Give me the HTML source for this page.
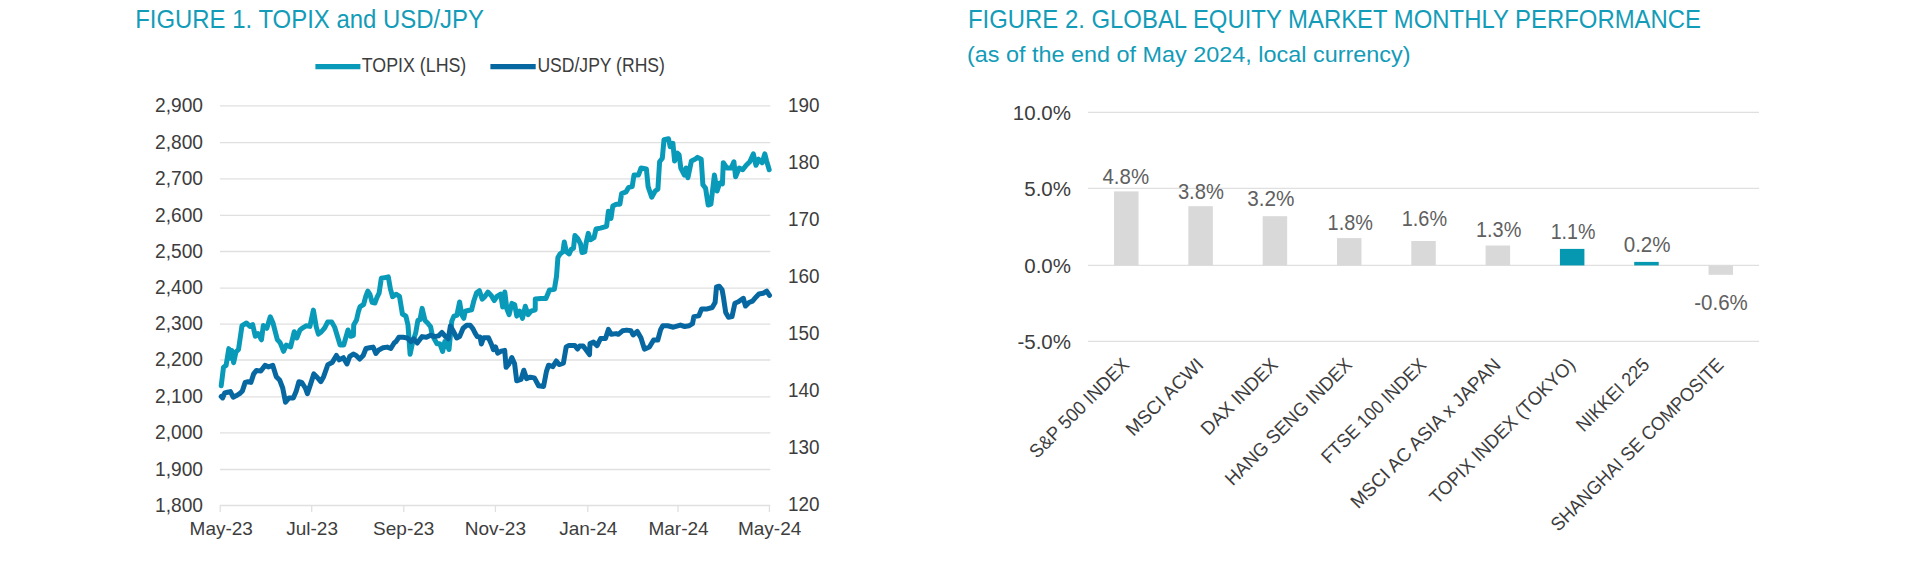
<!DOCTYPE html><html><head><meta charset="utf-8"><style>html,body{margin:0;padding:0;background:#fff;width:1920px;height:566px;overflow:hidden}svg{display:block;font-family:"Liberation Sans",sans-serif}</style></head><body>
<svg width="1920" height="566" viewBox="0 0 1920 566">
<text x="135.2" y="28" font-size="26" fill="#139cb8" textLength="348.8" lengthAdjust="spacingAndGlyphs">FIGURE 1. TOPIX and USD/JPY</text>
<text x="968" y="28" font-size="26" fill="#139cb8" textLength="733" lengthAdjust="spacingAndGlyphs">FIGURE 2. GLOBAL EQUITY MARKET MONTHLY PERFORMANCE</text>
<text x="967" y="61.6" font-size="22" fill="#139cb8" textLength="443.5" lengthAdjust="spacingAndGlyphs">(as of the end of May 2024, local currency)</text>
<line x1="315.4" y1="66.7" x2="360.4" y2="66.7" stroke="#0a9ab9" stroke-width="5.2"/>
<text x="361.8" y="71.5" font-size="19.5" fill="#3d3d3d" textLength="104.5" lengthAdjust="spacingAndGlyphs">TOPIX (LHS)</text>
<line x1="490.4" y1="66.7" x2="535.7" y2="66.7" stroke="#0667a1" stroke-width="5.2"/>
<text x="537.4" y="71.5" font-size="19.5" fill="#3d3d3d" textLength="127.5" lengthAdjust="spacingAndGlyphs">USD/JPY (RHS)</text>
<line x1="220" y1="105.95" x2="770.3" y2="105.95" stroke="#e0e0e0" stroke-width="1.3"/>
<text x="155" y="112.0" font-size="20" fill="#3d3d3d" textLength="48" lengthAdjust="spacingAndGlyphs">2,900</text>
<line x1="220" y1="142.70" x2="770.3" y2="142.70" stroke="#e0e0e0" stroke-width="1.3"/>
<text x="155" y="148.8" font-size="20" fill="#3d3d3d" textLength="48" lengthAdjust="spacingAndGlyphs">2,800</text>
<line x1="220" y1="178.90" x2="770.3" y2="178.90" stroke="#e0e0e0" stroke-width="1.3"/>
<text x="155" y="185.0" font-size="20" fill="#3d3d3d" textLength="48" lengthAdjust="spacingAndGlyphs">2,700</text>
<line x1="220" y1="215.40" x2="770.3" y2="215.40" stroke="#e0e0e0" stroke-width="1.3"/>
<text x="155" y="221.5" font-size="20" fill="#3d3d3d" textLength="48" lengthAdjust="spacingAndGlyphs">2,600</text>
<line x1="220" y1="251.50" x2="770.3" y2="251.50" stroke="#e0e0e0" stroke-width="1.3"/>
<text x="155" y="257.6" font-size="20" fill="#3d3d3d" textLength="48" lengthAdjust="spacingAndGlyphs">2,500</text>
<line x1="220" y1="288.20" x2="770.3" y2="288.20" stroke="#e0e0e0" stroke-width="1.3"/>
<text x="155" y="294.3" font-size="20" fill="#3d3d3d" textLength="48" lengthAdjust="spacingAndGlyphs">2,400</text>
<line x1="220" y1="324.10" x2="770.3" y2="324.10" stroke="#e0e0e0" stroke-width="1.3"/>
<text x="155" y="330.2" font-size="20" fill="#3d3d3d" textLength="48" lengthAdjust="spacingAndGlyphs">2,300</text>
<line x1="220" y1="360.00" x2="770.3" y2="360.00" stroke="#e0e0e0" stroke-width="1.3"/>
<text x="155" y="366.1" font-size="20" fill="#3d3d3d" textLength="48" lengthAdjust="spacingAndGlyphs">2,200</text>
<line x1="220" y1="396.80" x2="770.3" y2="396.80" stroke="#e0e0e0" stroke-width="1.3"/>
<text x="155" y="402.9" font-size="20" fill="#3d3d3d" textLength="48" lengthAdjust="spacingAndGlyphs">2,100</text>
<line x1="220" y1="432.95" x2="770.3" y2="432.95" stroke="#e0e0e0" stroke-width="1.3"/>
<text x="155" y="439.1" font-size="20" fill="#3d3d3d" textLength="48" lengthAdjust="spacingAndGlyphs">2,000</text>
<line x1="220" y1="469.50" x2="770.3" y2="469.50" stroke="#e0e0e0" stroke-width="1.3"/>
<text x="155" y="475.6" font-size="20" fill="#3d3d3d" textLength="48" lengthAdjust="spacingAndGlyphs">1,900</text>
<line x1="220" y1="505.50" x2="770.3" y2="505.50" stroke="#e0e0e0" stroke-width="1.3"/>
<text x="155" y="511.6" font-size="20" fill="#3d3d3d" textLength="48" lengthAdjust="spacingAndGlyphs">1,800</text>
<text x="788" y="111.9" font-size="20" fill="#3d3d3d" textLength="31.5" lengthAdjust="spacingAndGlyphs">190</text>
<text x="788" y="168.9" font-size="20" fill="#3d3d3d" textLength="31.5" lengthAdjust="spacingAndGlyphs">180</text>
<text x="788" y="226.0" font-size="20" fill="#3d3d3d" textLength="31.5" lengthAdjust="spacingAndGlyphs">170</text>
<text x="788" y="283.1" font-size="20" fill="#3d3d3d" textLength="31.5" lengthAdjust="spacingAndGlyphs">160</text>
<text x="788" y="340.2" font-size="20" fill="#3d3d3d" textLength="31.5" lengthAdjust="spacingAndGlyphs">150</text>
<text x="788" y="397.2" font-size="20" fill="#3d3d3d" textLength="31.5" lengthAdjust="spacingAndGlyphs">140</text>
<text x="788" y="454.3" font-size="20" fill="#3d3d3d" textLength="31.5" lengthAdjust="spacingAndGlyphs">130</text>
<text x="788" y="511.4" font-size="20" fill="#3d3d3d" textLength="31.5" lengthAdjust="spacingAndGlyphs">120</text>
<line x1="220.2" y1="505.5" x2="220.2" y2="512" stroke="#e0e0e0" stroke-width="1.3"/>
<text x="221.25" y="535.3" font-size="19" fill="#3d3d3d" text-anchor="middle">May-23</text>
<line x1="311.7" y1="505.5" x2="311.7" y2="512" stroke="#e0e0e0" stroke-width="1.3"/>
<text x="312.10" y="535.3" font-size="19" fill="#3d3d3d" text-anchor="middle">Jul-23</text>
<line x1="403.8" y1="505.5" x2="403.8" y2="512" stroke="#e0e0e0" stroke-width="1.3"/>
<text x="403.75" y="535.3" font-size="19" fill="#3d3d3d" text-anchor="middle">Sep-23</text>
<line x1="495.4" y1="505.5" x2="495.4" y2="512" stroke="#e0e0e0" stroke-width="1.3"/>
<text x="495.35" y="535.3" font-size="19" fill="#3d3d3d" text-anchor="middle">Nov-23</text>
<line x1="587.8" y1="505.5" x2="587.8" y2="512" stroke="#e0e0e0" stroke-width="1.3"/>
<text x="588.25" y="535.3" font-size="19" fill="#3d3d3d" text-anchor="middle">Jan-24</text>
<line x1="678.0" y1="505.5" x2="678.0" y2="512" stroke="#e0e0e0" stroke-width="1.3"/>
<text x="678.50" y="535.3" font-size="19" fill="#3d3d3d" text-anchor="middle">Mar-24</text>
<line x1="769.4" y1="505.5" x2="769.4" y2="512" stroke="#e0e0e0" stroke-width="1.3"/>
<text x="769.65" y="535.3" font-size="19" fill="#3d3d3d" text-anchor="middle">May-24</text>
<path d="M221.2,385.7 L223.5,367.2 L226.1,365.4 L228.8,348.6 L230.6,358.3 L231.8,350.4 L233.6,362.7 L235.9,352.1 L238.5,349.5 L242.0,325.6 L246.5,323.0 L250.0,326.5 L252.7,324.7 L255.3,336.2 L258.0,333.6 L261.5,339.8 L263.3,325.6 L266.8,328.3 L270.3,316.8 L273.0,323.0 L277.4,339.8 L280.0,342.4 L283.6,351.3 L286.2,345.1 L290.6,346.8 L294.2,331.8 L296.8,338.0 L300.0,329.9 L302.8,327.8 L306.4,325.7 L309.9,326.4 L313.4,310.1 L316.3,327.1 L318.4,334.1 L321.2,332.0 L324.7,327.8 L327.6,322.1 L331.8,322.1 L334.6,327.1 L340.1,345.0 L343.7,345.0 L348.0,330.0 L350.7,336.3 L353.4,335.3 L353.7,325.0 L356.5,320.0 L358.6,310.8 L360.1,306.6 L363.6,304.5 L365.7,296.7 L367.8,291.0 L370.0,294.6 L372.1,302.3 L374.9,303.0 L377.0,297.4 L379.1,293.2 L381.3,278.3 L384.8,277.6 L388.3,276.9 L390.4,288.9 L392.6,296.7 L396.0,294.2 L399.5,296.4 L402.4,314.0 L405.9,316.1 L408.0,325.3 L410.1,354.3 L412.3,343.7 L415.8,332.4 L417.9,320.4 L420.0,319.7 L422.1,308.4 L425.0,320.4 L427.8,323.2 L430.6,326.7 L432.0,333.8 L434.2,338.8 L437.0,343.7 L439.8,343.7 L442.6,351.5 L444.8,341.6 L446.9,345.1 L449.0,349.4 L450.4,335.2 L451.8,321.1 L453.9,316.1 L456.8,315.4 L459.6,302.0 L461.7,314.7 L463.8,318.3 L465.2,311.2 L468.1,310.5 L471.6,309.8 L473.7,301.3 L476.6,292.8 L479.4,290.7 L482.2,299.2 L485.0,296.4 L487.9,292.1 L491.4,295.7 L494.2,300.6 L497.0,296.4 L500.6,294.2 L502.7,307.0 L504.8,292.1 L506.9,309.1 L509.1,314.7 L511.9,303.4 L514.7,304.8 L516.8,316.1 L519.7,311.2 L522.5,318.3 L525.3,306.3 L528.1,314.7 L531.0,311.2 L535.2,309.8 L535.3,299.1 L541.0,298.4 L545.9,298.4 L549.5,290.0 L554.4,289.2 L556.5,276.5 L557.9,257.5 L560.1,253.9 L562.9,251.8 L564.3,241.9 L566.4,251.8 L569.2,253.9 L571.4,249.0 L573.5,248.3 L574.9,235.5 L577.7,238.4 L580.6,244.0 L582.0,252.5 L584.8,251.8 L586.2,242.6 L588.3,233.4 L590.4,239.8 L594.0,237.7 L596.0,229.0 L600.4,228.1 L606.6,226.3 L608.4,211.3 L611.0,218.4 L612.8,206.0 L616.3,204.2 L619.9,204.2 L621.6,193.6 L626.0,191.9 L628.7,187.4 L632.2,186.6 L634.0,175.1 L638.4,175.1 L641.1,168.0 L646.4,168.9 L648.1,186.6 L651.7,197.2 L655.2,191.0 L657.9,189.2 L659.6,161.8 L662.3,158.3 L664.0,139.7 L668.5,138.8 L670.2,146.8 L672.9,143.3 L674.6,160.9 L677.3,153.0 L679.1,154.7 L680.8,168.0 L684.4,175.1 L686.1,168.0 L687.9,177.7 L691.4,160.9 L695.0,159.2 L697.6,157.4 L701.2,159.2 L702.9,184.8 L705.6,188.3 L708.2,205.1 L710.9,204.2 L714.4,175.1 L717.1,191.0 L719.7,183.0 L722.4,183.9 L723.3,162.7 L726.8,168.0 L731.2,168.0 L733.9,161.8 L735.6,176.8 L739.2,168.0 L742.7,169.8 L746.2,165.3 L749.8,161.8 L753.3,153.9 L756.0,165.3 L758.6,159.2 L762.1,162.7 L764.8,153.9 L766.6,160.9 L769.2,169.8" fill="none" stroke="#0a9ab9" stroke-width="5" stroke-linejoin="round" stroke-linecap="round"/>
<path d="M221.2,396.5 L222.6,397.9 L224.7,393.0 L227.5,392.3 L230.4,391.6 L233.2,397.2 L236.0,395.8 L239.6,393.7 L242.4,390.9 L245.2,382.4 L248.0,381.7 L250.9,382.4 L253.7,373.9 L256.5,370.4 L260.8,371.1 L265.0,365.4 L268.5,366.9 L272.8,365.4 L276.3,376.7 L279.8,380.3 L282.7,388.0 L285.5,402.2 L289.0,397.9 L293.3,397.9 L296.1,391.6 L298.9,381.7 L301.7,382.4 L305.3,388.0 L307.4,393.7 L310.9,383.1 L313.8,373.9 L317.3,377.5 L320.8,381.7 L323.6,376.7 L327.9,364.7 L332.1,362.6 L336.4,355.5 L339.2,359.8 L343.4,357.7 L347.0,364.0 L349.8,356.3 L353.3,354.1 L356.1,355.5 L359.7,359.1 L363.2,355.5 L366.0,348.5 L369.6,347.8 L373.1,347.1 L375.9,353.4 L378.8,349.9 L383.0,347.8 L387.2,347.1 L390.8,348.5 L394.3,342.8 L396.0,341.6 L398.8,337.3 L403.1,337.3 L407.3,338.0 L410.8,341.6 L413.7,338.8 L417.2,343.0 L422.1,336.6 L426.4,337.3 L430.6,335.2 L434.2,336.6 L438.4,335.9 L441.9,332.4 L445.5,336.6 L448.3,338.8 L450.4,326.0 L453.2,331.0 L456.8,338.0 L459.6,336.6 L463.1,328.2 L466.7,325.3 L470.2,325.3 L473.0,328.9 L475.1,333.1 L477.3,336.6 L480.0,337.0 L481.4,344.0 L483.5,337.7 L488.5,337.7 L491.3,344.0 L493.4,349.7 L495.5,346.9 L497.7,353.2 L501.2,351.1 L504.7,350.4 L506.1,367.3 L509.0,363.8 L511.8,357.5 L514.6,363.8 L516.7,380.8 L521.0,379.4 L523.8,370.2 L526.6,378.6 L530.2,377.2 L534.4,377.9 L538.6,385.7 L543.6,386.4 L546.4,371.6 L548.5,365.2 L552.8,366.6 L556.3,361.0 L559.1,364.5 L563.4,363.1 L566.2,346.9 L569.0,345.4 L574.7,345.4 L577.5,349.0 L579.6,346.1 L583.2,346.1 L586.0,349.7 L589.5,354.6 L590.0,343.5 L593.5,342.1 L597.1,345.6 L600.6,338.5 L605.5,338.5 L608.4,329.4 L611.2,334.3 L616.1,333.6 L618.3,334.3 L622.5,330.8 L626.7,330.1 L631.0,330.8 L633.1,335.0 L637.3,331.5 L640.9,337.8 L644.4,349.1 L649.4,347.0 L653.6,340.0 L657.8,340.0 L660.7,329.4 L662.8,325.8 L667.7,325.8 L673.4,327.2 L680.4,325.1 L684.7,326.5 L688.9,325.8 L692.5,323.7 L693.9,316.6 L698.8,315.9 L701.6,308.9 L707.3,308.9 L712.2,307.5 L715.1,302.5 L716.5,287.0 L719.3,286.3 L722.1,289.8 L723.6,298.3 L725.7,312.4 L728.5,317.3 L732.0,316.6 L734.9,303.2 L738.4,301.8 L743.3,298.3 L745.5,306.0 L749.0,302.5 L752.5,301.1 L756.1,296.9 L758.9,294.0 L763.1,293.3 L766.7,291.2 L769.5,295.4" fill="none" stroke="#0667a1" stroke-width="5" stroke-linejoin="round" stroke-linecap="round"/>
<line x1="1088" y1="112.42" x2="1759" y2="112.42" stroke="#e0e0e0" stroke-width="1.3"/>
<text x="1071" y="119.5" font-size="20.5" fill="#3d3d3d" text-anchor="end">10.0%</text>
<line x1="1088" y1="188.42" x2="1759" y2="188.42" stroke="#e0e0e0" stroke-width="1.3"/>
<text x="1071" y="195.5" font-size="20.5" fill="#3d3d3d" text-anchor="end">5.0%</text>
<line x1="1088" y1="265.42" x2="1759" y2="265.42" stroke="#e0e0e0" stroke-width="1.3"/>
<text x="1071" y="272.5" font-size="20.5" fill="#3d3d3d" text-anchor="end">0.0%</text>
<line x1="1088" y1="341.42" x2="1759" y2="341.42" stroke="#e0e0e0" stroke-width="1.3"/>
<text x="1071" y="348.5" font-size="20.5" fill="#3d3d3d" text-anchor="end">-5.0%</text>
<rect x="1114.05" y="191.40" width="24.5" height="74.02" fill="#d9d9d9"/>
<rect x="1188.36" y="206.20" width="24.5" height="59.22" fill="#d9d9d9"/>
<rect x="1262.67" y="216.20" width="24.5" height="49.22" fill="#d9d9d9"/>
<rect x="1336.98" y="238.10" width="24.5" height="27.32" fill="#d9d9d9"/>
<rect x="1411.29" y="241.00" width="24.5" height="24.42" fill="#d9d9d9"/>
<rect x="1485.60" y="245.50" width="24.5" height="19.92" fill="#d9d9d9"/>
<rect x="1559.91" y="248.90" width="24.5" height="16.52" fill="#0698b0"/>
<rect x="1634.22" y="261.90" width="24.5" height="3.52" fill="#0698b0"/>
<rect x="1708.53" y="265.42" width="24.5" height="9.38" fill="#d9d9d9"/>
<text x="1102.5" y="183.5" font-size="21.7" fill="#606060" textLength="46.6" lengthAdjust="spacingAndGlyphs">4.8%</text>
<text x="1177.9" y="198.6" font-size="21.7" fill="#606060" textLength="46.0" lengthAdjust="spacingAndGlyphs">3.8%</text>
<text x="1247.2" y="206.2" font-size="21.7" fill="#606060" textLength="47.2" lengthAdjust="spacingAndGlyphs">3.2%</text>
<text x="1327.6000000000001" y="230.4" font-size="21.7" fill="#606060" textLength="45.3" lengthAdjust="spacingAndGlyphs">1.8%</text>
<text x="1401.8" y="226.2" font-size="21.7" fill="#606060" textLength="45.3" lengthAdjust="spacingAndGlyphs">1.6%</text>
<text x="1476.0" y="237" font-size="21.7" fill="#606060" textLength="45.4" lengthAdjust="spacingAndGlyphs">1.3%</text>
<text x="1550.7" y="238.6" font-size="21.7" fill="#606060" textLength="44.8" lengthAdjust="spacingAndGlyphs">1.1%</text>
<text x="1623.7" y="251.8" font-size="21.7" fill="#606060" textLength="46.9" lengthAdjust="spacingAndGlyphs">0.2%</text>
<text x="1694.3" y="309.8" font-size="21.7" fill="#606060" textLength="53.5" lengthAdjust="spacingAndGlyphs">-0.6%</text>
<text transform="translate(1130.3,366) rotate(-45)" font-size="19" fill="#3d3d3d" text-anchor="end" textLength="131.8" lengthAdjust="spacingAndGlyphs">S&amp;P 500 INDEX</text>
<text transform="translate(1204.6,366) rotate(-45)" font-size="19" fill="#3d3d3d" text-anchor="end" textLength="100.4" lengthAdjust="spacingAndGlyphs">MSCI ACWI</text>
<text transform="translate(1278.9,366) rotate(-45)" font-size="19" fill="#3d3d3d" text-anchor="end" textLength="99.4" lengthAdjust="spacingAndGlyphs">DAX INDEX</text>
<text transform="translate(1353.2,366) rotate(-45)" font-size="19" fill="#3d3d3d" text-anchor="end" textLength="170.4" lengthAdjust="spacingAndGlyphs">HANG SENG INDEX</text>
<text transform="translate(1427.5,366) rotate(-45)" font-size="19" fill="#3d3d3d" text-anchor="end" textLength="139.4" lengthAdjust="spacingAndGlyphs">FTSE 100 INDEX</text>
<text transform="translate(1501.8,366) rotate(-45)" font-size="19" fill="#3d3d3d" text-anchor="end" textLength="203.1" lengthAdjust="spacingAndGlyphs">MSCI AC ASIA x JAPAN</text>
<text transform="translate(1576.2,366) rotate(-45)" font-size="19" fill="#3d3d3d" text-anchor="end" textLength="196.6" lengthAdjust="spacingAndGlyphs">TOPIX INDEX (TOKYO)</text>
<text transform="translate(1650.5,366) rotate(-45)" font-size="19" fill="#3d3d3d" text-anchor="end" textLength="94.3" lengthAdjust="spacingAndGlyphs">NIKKEI 225</text>
<text transform="translate(1724.8,366) rotate(-45)" font-size="19" fill="#3d3d3d" text-anchor="end" textLength="235.2" lengthAdjust="spacingAndGlyphs">SHANGHAI SE COMPOSITE</text>
</svg></body></html>
